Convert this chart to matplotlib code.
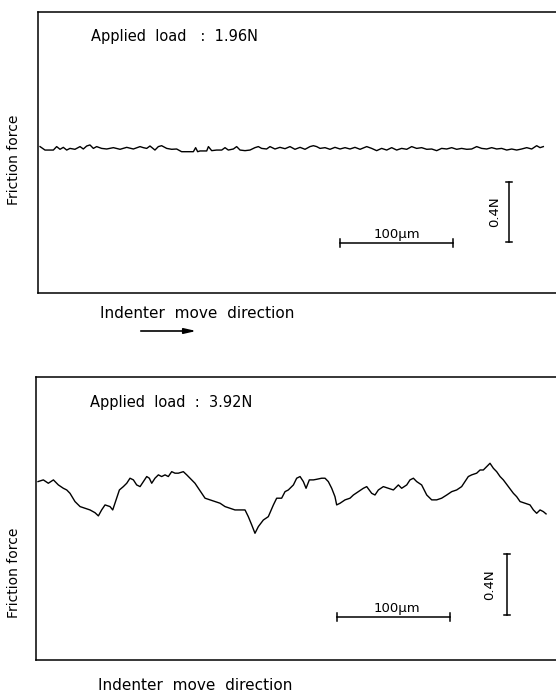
import matplotlib
matplotlib.use("Agg")
import matplotlib.pyplot as plt

# ---- data: top trace (applied load 1.96 N) ----
top_x = [1.8, 6.2, 13.6, 16.5, 19.5, 22.4, 25.4, 28.3, 32.7, 37.2, 40.1, 43.1, 46.0, 49.0, 51.9,
         56.3, 60.8, 66.7, 72.6, 78.5, 84.4, 90.3, 93.2, 96.2, 99.1, 103.5, 106.5, 109.4, 113.9,
         118.3, 122.7, 127.1, 137.5, 139.5, 141.3, 143.4, 149.3, 150.8, 153.7, 158.1, 162.6,
         165.5, 168.4, 172.9, 175.8, 178.8, 183.2, 187.6, 192.0, 195.0, 197.9, 202.3, 205.3,
         209.7, 214.1, 218.6, 223.0, 227.4, 231.9, 236.3, 240.7, 243.7, 246.6, 249.6, 254.0,
         258.4, 262.8, 267.3, 271.7, 276.1, 280.5, 285.0, 290.9, 295.3, 299.7, 304.1, 308.6,
         313.0, 317.4, 321.8, 326.3, 330.7, 335.1, 339.5, 344.0, 348.4, 352.8, 357.2, 361.7,
         366.1, 370.5, 374.9, 379.4, 383.8, 388.2, 392.6, 397.1, 401.5, 405.9, 410.3, 414.8,
         419.2, 423.6, 428.0, 432.5, 436.9, 441.3, 444.3, 447.2]
top_f = [0.976, 0.953, 0.953, 0.976, 0.958, 0.971, 0.953, 0.964, 0.958, 0.976, 0.960, 0.980,
         0.987, 0.964, 0.976, 0.964, 0.960, 0.969, 0.958, 0.971, 0.960, 0.976, 0.969, 0.964,
         0.980, 0.953, 0.976, 0.982, 0.964, 0.958, 0.960, 0.942, 0.942, 0.969, 0.942, 0.947,
         0.947, 0.976, 0.949, 0.953, 0.953, 0.969, 0.953, 0.960, 0.976, 0.953, 0.949, 0.953,
         0.969, 0.976, 0.964, 0.960, 0.976, 0.960, 0.971, 0.962, 0.976, 0.958, 0.971, 0.958,
         0.976, 0.982, 0.976, 0.964, 0.969, 0.958, 0.971, 0.960, 0.969, 0.960, 0.971, 0.958,
         0.976, 0.964, 0.949, 0.964, 0.953, 0.969, 0.953, 0.964, 0.958, 0.976, 0.964, 0.969,
         0.958, 0.960, 0.949, 0.964, 0.960, 0.969, 0.958, 0.964, 0.958, 0.960, 0.976, 0.964,
         0.960, 0.969, 0.960, 0.964, 0.953, 0.960, 0.953, 0.960, 0.969, 0.960, 0.982, 0.969,
         0.976]

# ---- data: bottom trace (applied load 3.92 N) ----
bot_x = [0.0, 4.7, 9.1, 13.6, 18.0, 22.4, 25.4, 28.3, 32.7, 37.2, 41.6, 46.0, 50.4, 53.4, 56.3,
         59.3, 63.7, 66.1, 68.1, 72.0, 75.5, 78.5, 81.4, 84.4, 87.3, 90.3, 93.2, 96.2, 98.5,
         100.6, 103.5, 106.5, 109.4, 112.4, 115.3, 118.3, 121.2, 124.2, 128.6, 131.6, 134.5,
         138.9, 141.9, 144.8, 147.8, 152.2, 156.6, 161.1, 165.5, 169.9, 174.3, 178.8, 183.2,
         186.1, 189.1, 192.0, 195.0, 199.4, 203.8, 208.3, 211.2, 215.6, 218.6, 221.5, 226.0,
         228.9, 231.9, 234.8, 237.2, 240.1, 243.7, 246.6, 251.0, 254.0, 256.9, 259.9, 262.8,
         264.3, 267.3, 271.7, 276.1, 279.1, 283.5, 287.9, 290.9, 295.3, 298.2, 301.2, 305.6,
         310.0, 314.5, 318.9, 321.8, 326.3, 329.2, 332.2, 335.1, 339.5, 344.0, 348.4, 352.8,
         357.2, 361.7, 366.1, 370.5, 374.9, 377.9, 380.8, 383.8, 388.2, 391.2, 394.1, 397.1,
         400.0, 403.0, 405.9, 408.9, 411.8, 416.2, 420.7, 423.6, 426.6, 431.0, 435.4, 438.4,
         441.3, 444.3, 447.2, 449.6]
bot_f = [1.170, 1.181, 1.159, 1.181, 1.148, 1.126, 1.115, 1.093, 1.039, 1.006, 0.995, 0.984,
         0.966, 0.945, 0.984, 1.017, 1.006, 0.984, 1.028, 1.115, 1.137, 1.159, 1.192, 1.181,
         1.148, 1.137, 1.170, 1.203, 1.192, 1.159, 1.192, 1.214, 1.203, 1.214, 1.203, 1.235,
         1.225, 1.225, 1.235, 1.214, 1.192, 1.159, 1.126, 1.093, 1.061, 1.050, 1.039, 1.028,
         1.006, 0.995, 0.984, 0.984, 0.984, 0.940, 0.886, 0.831, 0.875, 0.918, 0.940, 1.017,
         1.061, 1.061, 1.104, 1.115, 1.148, 1.192, 1.203, 1.170, 1.126, 1.181, 1.181, 1.185,
         1.192, 1.192, 1.170, 1.126, 1.071, 1.017, 1.028, 1.050, 1.061, 1.082, 1.104, 1.126,
         1.137, 1.093, 1.082, 1.115, 1.137, 1.126, 1.115, 1.148, 1.126, 1.148, 1.181, 1.192,
         1.170, 1.148, 1.082, 1.050, 1.050, 1.061, 1.082, 1.104, 1.115, 1.137, 1.170, 1.203,
         1.214, 1.225, 1.246, 1.246, 1.268, 1.290, 1.257, 1.235, 1.203, 1.181, 1.137, 1.093,
         1.071, 1.039, 1.028, 1.017, 0.984, 0.962, 0.984, 0.973, 0.958]

# ---- labels ----
load_labels = ["Applied  load   :  1.96N", "Applied  load  :  3.92N"]
ylabel_text = "Friction  force"
xlabel_text = "Indenter  move  direction"
xbar_len = 100.0   # µm
ybar_len = 0.4     # N
xbar_label = "100µm"
ybar_label = "0.4N"

W, H = 556, 698
fig = plt.figure(figsize=(W / 100, H / 100), dpi=100)
plt.rcParams['font.family'] = ['DejaVu Sans']


def px_rect(left, top, right, bottom):
    return [left / W, (H - bottom) / H, (right - left) / W, (bottom - top) / H]


def style_axes(ax):
    ax.set_xticks([])
    ax.set_yticks([])
    ax.spines['right'].set_visible(False)
    for s in ['left', 'top', 'bottom']:
        ax.spines[s].set_linewidth(1.1)
        ax.spines[s].set_color('black')
    ax.patch.set_alpha(0)


def scale_bars(ax, x0, yh, xv, yv0, cap_x, cap_y, tx, ty, vx, vy):
    ax.plot([x0, x0 + xbar_len], [yh, yh], color='black', lw=1.1)
    for xx in (x0, x0 + xbar_len):
        ax.plot([xx, xx], [yh - cap_y, yh + cap_y], color='black', lw=1.1)
    ax.text(tx, ty, xbar_label, ha='center', va='bottom', fontsize=9.5)
    ax.plot([xv, xv], [yv0, yv0 + ybar_len], color='black', lw=1.1)
    for yy in (yv0, yv0 + ybar_len):
        ax.plot([xv - cap_x, xv + cap_x], [yy, yy], color='black', lw=1.1)
    ax.text(vx, vy, ybar_label, ha='center', va='center', rotation=90, fontsize=9.5)


# ---- top panel ----
ax1 = fig.add_axes(px_rect(38, 12, 562, 293))
style_axes(ax1)
ax1.set_xlim(0, (562 - 38) / 1.13)
ax1.set_ylim(0, 281 * 0.4 / 60)
ax1.plot(top_x, top_f, color='black', lw=1.0)
ax1.text(46.9, 1.707, load_labels[0], ha='left', va='center', fontsize=10.5)
scale_bars(ax1, 267.3, 0.333, 416.8, 0.340, 3.0, 0.025, 317.7, 0.345, 404.4, 0.54)

# ---- bottom panel ----
ax2 = fig.add_axes(px_rect(36, 377, 562, 660))
style_axes(ax2)
ax2.set_xlim(-1.8, (562 - 38) / 1.13)
ax2.set_ylim(0, 283 * 0.4 / 61)
ax2.plot(bot_x, bot_f, color='black', lw=1.0)
ax2.text(46.0, (660 - 402) * 0.4 / 61, load_labels[1], ha='left', va='center', fontsize=10.5)
scale_bars(ax2, 264.6, 0.282, 415.0, 0.295, 3.0, 0.025, 317.7, 0.295, 400.0, 0.492)

# ---- outside labels ----
fig.text(14 / W, 1 - 160 / H, "Friction force", rotation=90, ha='center', va='center', fontsize=10)
fig.text(14 / W, 1 - 573 / H, "Friction force", rotation=90, ha='center', va='center', fontsize=10)
fig.text(100 / W, 1 - 313 / H, xlabel_text, ha='left', va='center', fontsize=11)
fig.text(98 / W, 1 - 685 / H, xlabel_text, ha='left', va='center', fontsize=11)
fig.patches.append(matplotlib.patches.FancyArrowPatch(
    (138 / W, 1 - 331 / H), (199 / W, 1 - 331 / H), transform=fig.transFigure,
    arrowstyle='-|>,head_length=7,head_width=1.6', color='black', lw=1.2, mutation_scale=1))

fig.savefig("out.png", dpi=100, facecolor='white')
